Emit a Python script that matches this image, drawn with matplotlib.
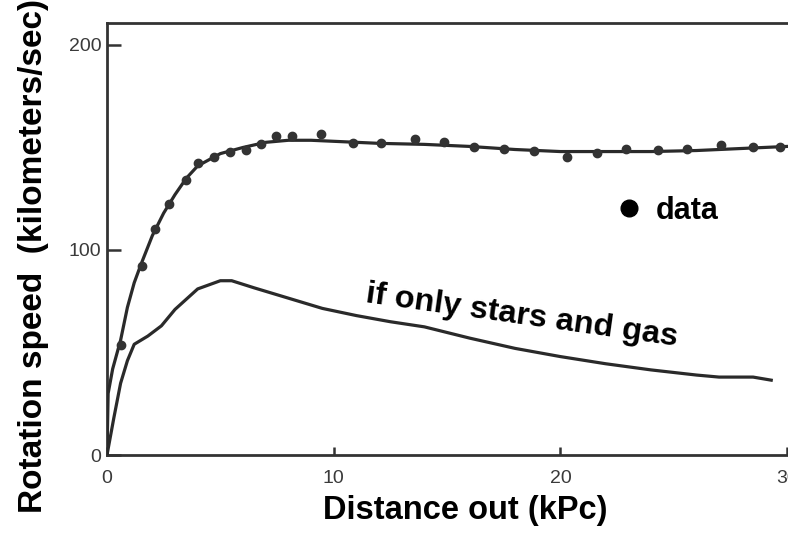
import matplotlib
matplotlib.use("Agg")
import matplotlib.pyplot as plt

# measured rotation speeds (km/s) vs distance (kPc)
data_x = [0.62, 1.54, 2.11, 2.73, 3.48, 4.0, 4.71, 5.42, 6.12, 6.78, 7.44, 8.15,
          9.43, 10.84, 12.1, 13.57, 14.85, 16.17, 17.5, 18.85, 20.3, 21.6, 22.9,
          24.3, 25.6, 27.1, 28.5, 29.7]
data_y = [53.7, 92.2, 110.2, 122.4, 134.0, 142.4, 145.4, 147.8, 148.8, 151.7, 155.6, 155.6,
          156.6, 152.2, 152.2, 154.1, 152.7, 150.2, 149.3, 148.3, 145.4, 147.3, 149.3,
          148.8, 149.3, 151.2, 150.2, 150.2]

# fitted curve through the data
fit_x = [0, 0.05, 0.25, 0.6, 0.9, 1.2, 1.5, 2.0, 2.5, 3.0, 3.5, 4.0, 5.0, 6.0, 7.0,
         8.0, 9.0, 10, 12, 14, 16, 18, 20, 22, 24, 26, 28, 30]
fit_y = [0, 30, 42, 56, 72, 84, 93, 107, 118, 127, 135, 141, 147, 150, 152.5,
         153.5, 153.5, 153, 152, 151.5, 150.5, 149, 148, 148, 148, 148.5, 149.5, 150.5]

# expected curve from visible matter only
stars_x = [0, 0.3, 0.6, 0.9, 1.2, 1.8, 2.4, 3.0, 4.0, 5.0, 5.5, 6.5, 8.0, 9.5, 11,
           12.5, 14, 16, 18, 20, 22, 24, 26, 27, 28.5, 29.3]
stars_y = [0, 18, 35, 46, 54, 58, 63, 71, 81, 85, 85, 81.5, 76.5, 71.5, 68,
           65, 62.5, 57, 52, 48, 44.5, 41.5, 39, 38, 38, 36.5]

x_ticks = [0, 10, 20, 30]
y_ticks = [0, 100, 200]

ink = "#2a2a2a"
bold_font = ["Liberation Sans", "DejaVu Sans"]

fig = plt.figure(figsize=(7.88, 5.38), dpi=100)
ax = fig.add_axes([107 / 788, 83 / 538, 681 / 788, 432 / 538])

ax.plot(fit_x, fit_y, color=ink, lw=2.3, solid_joinstyle="round", zorder=3)
ax.plot(stars_x, stars_y, color=ink, lw=2.3, solid_joinstyle="round", zorder=3)
ax.plot(data_x, data_y, "o", color="#333333", ms=6, label="data", zorder=4)

ax.set_xlim(0, 30.04)
ax.set_ylim(0, 210.7)
ax.set_xticks(x_ticks)
ax.set_yticks(y_ticks)

for side in ["left", "bottom", "top"]:
    ax.spines[side].set_linewidth(2.0)
    ax.spines[side].set_color("#333333")
ax.spines["right"].set_visible(False)

ax.tick_params(axis="y", direction="in", length=10, width=1.8, color="#333333",
               pad=4, labelsize=14, labelcolor="#3a3a3a")
ax.tick_params(axis="x", direction="in", length=6, width=1.8, color="#333333",
               pad=11, labelsize=14, labelcolor="#3a3a3a")
for lab in ax.get_xticklabels() + ax.get_yticklabels():
    lab.set_family(["Liberation Sans", "DejaVu Sans"])

ax.set_xlabel("Distance out (kPc)", family=bold_font, fontweight="bold",
              fontsize=23.5, color="black")
ax.xaxis.set_label_coords(0.526, -0.092)
ax.set_ylabel("Rotation speed  (kilometers/sec)", family=bold_font,
              fontweight="bold", fontsize=24, color="black")
ax.yaxis.set_label_coords(-0.085, 0.46)

ax.text(18.3, 67.8, "if only stars and gas", family=bold_font, fontweight="bold",
        fontsize=23.4, rotation=-8, rotation_mode="anchor", ha="center", va="center",
        color="black")

leg = ax.legend(loc="center left", bbox_to_anchor=(0.712, 0.565), frameon=False,
                markerscale=2.0, handlelength=0.6, handletextpad=0.6,
                prop={"family": bold_font, "weight": "bold", "size": 22})
for h in leg.legend_handles:
    h.set_color("black")

fig.savefig("out.png", dpi=100)
